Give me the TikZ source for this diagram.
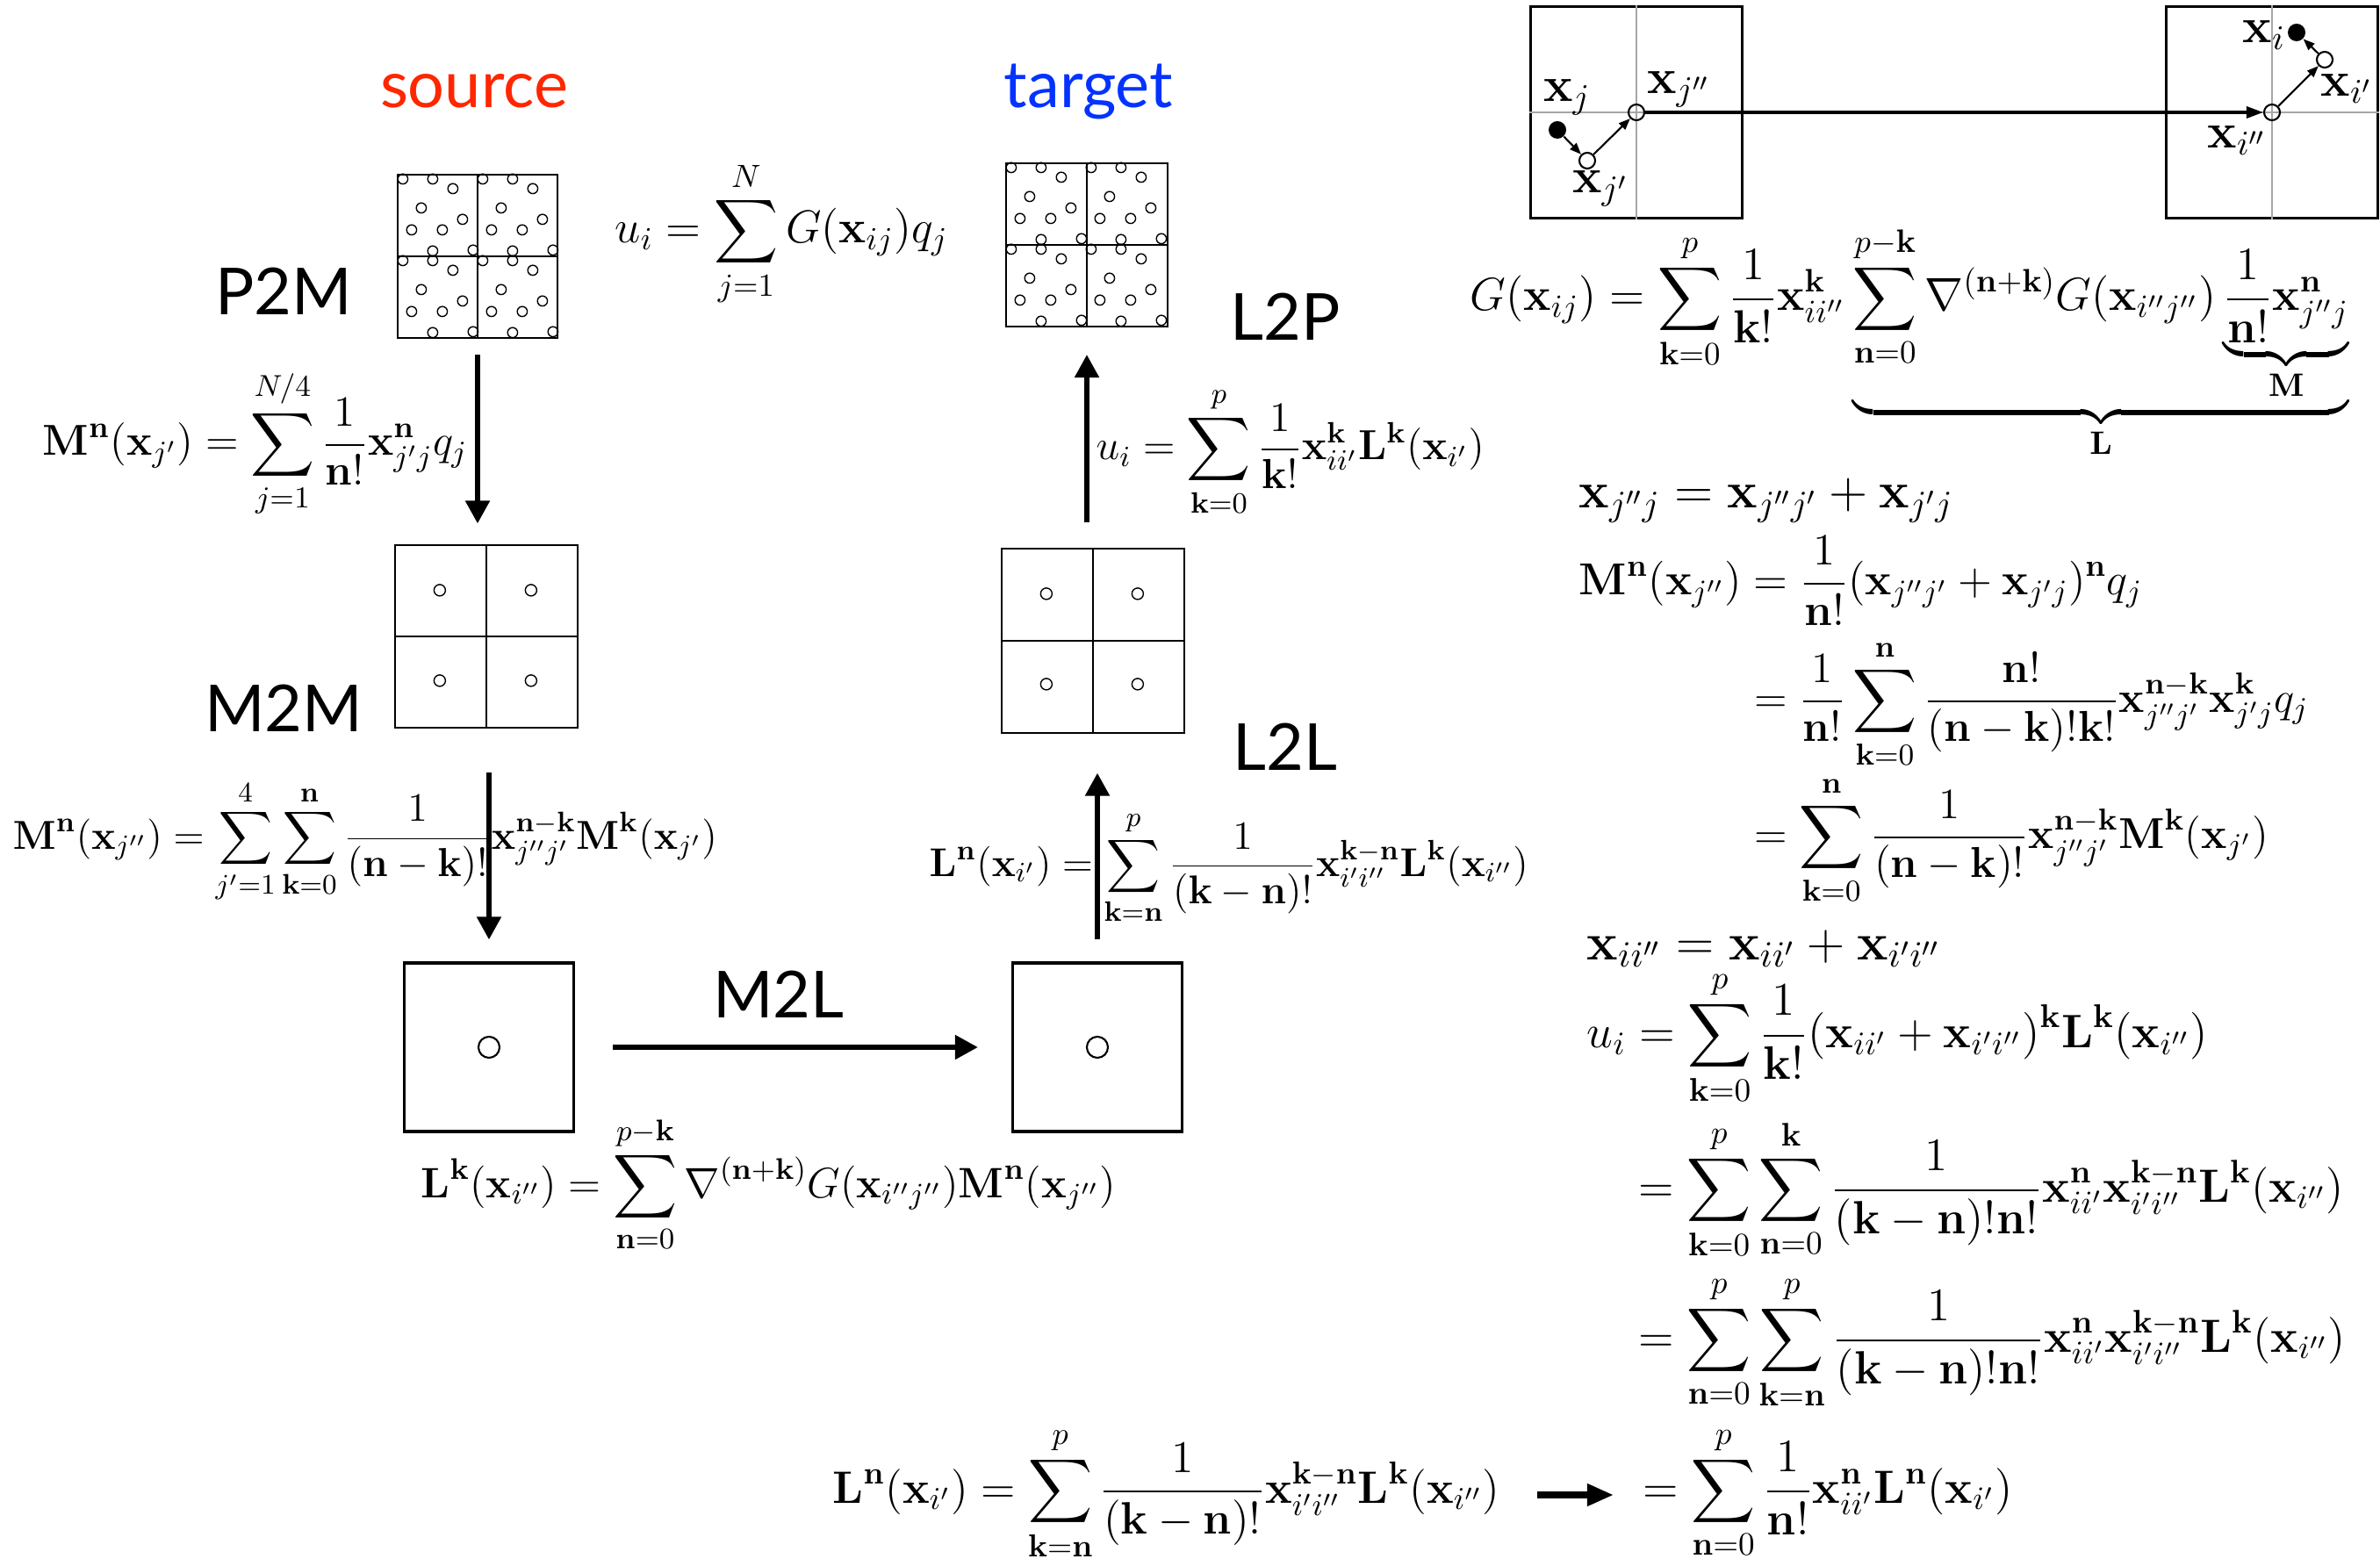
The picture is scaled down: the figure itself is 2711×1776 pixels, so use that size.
\RequirePackage{fix-cm}
\documentclass[tikz,border=0pt]{standalone}
\usepackage{amsmath}
\usepackage[no-math]{fontspec}
\newfontfamily\labelfont{Lato}
\usepackage{tikz}
\usetikzlibrary{arrows.meta, positioning, calc}

\definecolor{srcred}{RGB}{255,38,0}
\definecolor{tgtblue}{RGB}{4,51,255}
\newcommand{\vx}{\mathbf{x}}
\newcommand{\vn}{\mathbf{n}}
\newcommand{\vk}{\mathbf{k}}
\newcommand{\vM}{\mathbf{M}}
\newcommand{\vL}{\mathbf{L}}

\begin{document}
\begin{tikzpicture}[
    x=0.01cm, y=-0.01cm,
    cell/.style={draw, line width=0.6pt, inner sep=0pt},
    bigcell/.style={draw, line width=0.9pt, inner sep=0pt,
        minimum width=1.93cm, minimum height=1.92cm},
    frame/.style={draw, line width=1pt, inner sep=0pt,
        minimum width=2.41cm, minimum height=2.41cm},
    cross/.style={draw=gray!70, line width=0.7pt},
    eq/.style={inner sep=0pt, anchor=base west,
        font=\fontsize{#1}{17}\selectfont},
    eq/.default=14,
    tag/.style={inner sep=0pt, font=\fontsize{16}{19}\selectfont},
    lbl/.style={inner sep=0pt, font=\labelfont\fontsize{21}{25}\selectfont},
    flow/.style={line width=1.5pt, -{Triangle[length=0.26cm, width=0.27cm]}},
    trunk/.style={line width=1pt, -{Triangle[length=0.19cm, width=0.13cm]}},
    link/.style={line width=0.6pt, -{Triangle[length=0.13cm, width=0.1cm]}},
    hollow/.style={circle, draw, line width=0.6pt, minimum size=0.18cm, inner sep=0pt},
    dot/.style={circle, fill=black, minimum size=0.2cm, inner sep=0pt}
]
    \useasboundingbox (0,0) rectangle (2711,1776);

    % Headings
    \node[lbl, text=srcred]  (source) at (540,104)  {source};
    \node[lbl, text=tgtblue] (target) at (1240,104) {target};
    \node[lbl] (p2m) at (323,332)  {P2M};
    \node[lbl] (m2m) at (323,807)  {M2M};
    \node[lbl] (l2p) at (1464,361) {L2P};
    \node[lbl] (l2l) at (1464,851) {L2L};
    \node[lbl] (m2l) at (887,1133) {M2L};

    % Leaf boxes with particles
    \node[cell, minimum width=1.82cm, minimum height=1.86cm] (p2mbox) at (544,292) {};
    \node[cell, minimum width=1.84cm, minimum height=1.86cm] (l2pbox) at (1238,279) {};
    \foreach \b in {p2mbox, l2pbox} {
        \draw[cell] (\b.north) -- (\b.south);
        \draw[cell] (\b.west) -- (\b.east);
        \foreach \qx/\qy in {0/0, 91/0, 0/93, 91/93}
            \foreach \px/\py in {7/6, 41/6, 64/17, 28/39, 75/52, 17/64, 52/64, 41/88, 87/87}
                \draw[line width=0.4pt] ($(\b.north west)+(\qx+\px,\qy+\py)$) circle[radius=0.057cm];
    }

    % Second level boxes
    \node[cell, minimum width=2.08cm, minimum height=2.07cm] (m2mbox) at (554,725) {};
    \node[cell, minimum width=2.08cm, minimum height=2.09cm] (l2lbox) at (1245,730) {};
    \foreach \b in {m2mbox, l2lbox} {
        \draw[cell] (\b.north) -- (\b.south);
        \draw[cell] (\b.west) -- (\b.east);
        \foreach \cx/\cy in {52/52, 156/52, 52/155, 156/155}
            \draw[line width=0.4pt] ($(\b.north west)+(\cx,\cy)$) circle[radius=0.065cm];
    }

    % Top level boxes
    \node[bigcell] (m2lsrc) at (557,1193)  {};
    \node[bigcell] (m2ltgt) at (1250,1193) {};
    \draw[line width=0.6pt] (m2lsrc.center) circle[radius=0.12cm];
    \draw[line width=0.6pt] (m2ltgt.center) circle[radius=0.12cm];

    % Arrows between levels
    \draw[flow, shorten <=0.18cm, shorten >=0.24cm] (p2mbox.south) -- (p2mbox.south |- m2mbox.north);
    \draw[flow, shorten <=0.5cm, shorten >=0.25cm] (m2lsrc.north |- m2mbox.south) -- (m2lsrc.north);
    \draw[flow, shorten <=0.43cm, shorten >=0.38cm] (m2lsrc.east) -- (m2ltgt.west);
    \draw[flow, shorten <=0.25cm, shorten >=0.45cm] (m2ltgt.north) -- (m2ltgt.north |- l2lbox.south);
    \draw[flow, shorten <=0.29cm, shorten >=0.31cm] (l2pbox.south |- l2lbox.north) -- (l2pbox.south);

    % Equations on the tree
    \node[eq=14.9] (direct) at (700,277)
        {$\displaystyle u_i=\sum_{j=1}^{N}G(\vx_{ij})q_j$};
    \node[eq] (p2meq) at (48,519)
        {$\displaystyle \vM^{\vn}(\vx_{j'})=\sum_{j=1}^{N/4}\frac{1}{\vn!}\vx^{\vn}_{j'j}q_j$};
    \node[eq=13.1] (m2meq) at (14,967)
        {$\displaystyle \vM^{\vn}(\vx_{j''})=\sum_{j'=1}^{4}\sum_{\vk=0}^{\vn}\frac{1}{(\vn-\vk)!}\vx^{\vn-\vk}_{j''j'}\vM^{\vk}(\vx_{j'})$};
    \node[eq=13.8] (m2leq) at (479,1364)
        {$\displaystyle \vL^{\vk}(\vx_{i''})=\sum_{\vn=0}^{p-\vk}\nabla^{(\vn+\vk)}G(\vx_{i''j''})\vM^{\vn}(\vx_{j''})$};
    \node[eq=13.6] (l2peq) at (1248,524)
        {$\displaystyle u_i=\sum_{\vk=0}^{p}\frac{1}{\vk!}\vx^{\vk}_{ii'}\vL^{\vk}(\vx_{i'})$};
    \node[eq=13] (l2leq) at (1058,998)
        {$\displaystyle \vL^{\vn}(\vx_{i'})=\sum_{\vk=\vn}^{p}\frac{1}{(\vk-\vn)!}\vx^{\vk-\vn}_{i'i''}\vL^{\vk}(\vx_{i''})$};

    % Top right: cells and centres
    \node[frame] (srccell) at (1864,128) {};
    \node[frame] (tgtcell) at (2588,128) {};
    \draw[cross] (srccell.north) -- (srccell.south);
    \draw[cross] (srccell.west) -- (srccell.east);
    \draw[cross] (tgtcell.north) -- (tgtcell.south);
    \draw[cross] (tgtcell.west) -- (tgtcell.east);

    \node[dot]    (xj)   at (1774,148) {};
    \node[hollow] (xjp)  at (1808,183) {};
    \node[hollow] (xjpp) at (1864,128) {};
    \node[hollow] (xipp) at (2588,128) {};
    \node[hollow] (xip)  at (2648,68)  {};
    \node[dot]    (xi)   at (2616,37)  {};
    \draw[link]  (xj) -- (xjp);
    \draw[link]  (xjp) -- (xjpp);
    \draw[trunk] (xjpp) -- (xipp);
    \draw[link]  (xipp) -- (xip);
    \draw[link]  (xip) -- (xi);

    \node[tag] (tagxj)   at (1785,111) {$\vx_j$};
    \node[tag] (tagxjpp) at (1912,102) {$\vx_{j''}$};
    \node[tag] (tagxjp)  at (1823,215) {$\vx_{j'}$};
    \node[tag] (tagxi)   at (2579,40)  {$\vx_i$};
    \node[tag] (tagxip)  at (2673,101) {$\vx_{i'}$};
    \node[tag] (tagxipp) at (2548,160) {$\vx_{i''}$};

    % Right column: expansion and derivation
    \node[eq=15] (kernel) at (1674,354)
        {$\displaystyle G(\vx_{ij})=\sum_{\vk=0}^{p}\frac{1}{\vk!}\vx^{\vk}_{ii''}
         \underbrace{\sum_{\vn=0}^{p-\vk}\nabla^{(\vn+\vk)}G(\vx_{i''j''})
         \underbrace{\frac{1}{\vn!}\vx^{\vn}_{j''j}}_{\vM}}_{\vL}$};
    \node[eq=16.5] (shiftj) at (1798,579)
        {$\displaystyle \vx_{j''j}=\vx_{j''j'}+\vx_{j'j}$};
    \node[eq=14.5] (mstep1) at (1798,678)
        {$\displaystyle \vM^{\vn}(\vx_{j''})=\frac{1}{\vn!}(\vx_{j''j'}+\vx_{j'j})^{\vn}q_j$};
    \node[eq] (mstep2) at (1984,811)
        {$\displaystyle {}=\frac{1}{\vn!}\sum_{\vk=0}^{\vn}\frac{\vn!}{(\vn-\vk)!\vk!}\vx^{\vn-\vk}_{j''j'}\vx^{\vk}_{j'j}q_j$};
    \node[eq] (mstep3) at (1984,966)
        {$\displaystyle {}=\sum_{\vk=0}^{\vn}\frac{1}{(\vn-\vk)!}\vx^{\vn-\vk}_{j''j'}\vM^{\vk}(\vx_{j'})$};
    \node[eq=17] (shifti) at (1807,1093)
        {$\displaystyle \vx_{ii''}=\vx_{ii'}+\vx_{i'i''}$};
    \node[eq=15.2] (lstep1) at (1807,1193)
        {$\displaystyle u_i=\sum_{\vk=0}^{p}\frac{1}{\vk!}(\vx_{ii'}+\vx_{i'i''})^{\vk}\vL^{\vk}(\vx_{i''})$};
    \node[eq=15.1] (lstep2) at (1851,1369)
        {$\displaystyle {}=\sum_{\vk=0}^{p}\sum_{\vn=0}^{\vk}\frac{1}{(\vk-\vn)!\vn!}\vx^{\vn}_{ii'}\vx^{\vk-\vn}_{i'i''}\vL^{\vk}(\vx_{i''})$};
    \node[eq=15.1] (lstep3) at (1851,1540)
        {$\displaystyle {}=\sum_{\vn=0}^{p}\sum_{\vk=\vn}^{p}\frac{1}{(\vk-\vn)!\vn!}\vx^{\vn}_{ii'}\vx^{\vk-\vn}_{i'i''}\vL^{\vk}(\vx_{i''})$};

    % Bottom: L2L compared with a Taylor shift
    \node[eq=14.7] (l2lfull) at (948,1712)
        {$\displaystyle \vL^{\vn}(\vx_{i'})=\sum_{\vk=\vn}^{p}\frac{1}{(\vk-\vn)!}\vx^{\vk-\vn}_{i'i''}\vL^{\vk}(\vx_{i''})$};
    \node[eq=15.1] (l2lshort) at (1856,1712)
        {$\displaystyle {}=\sum_{\vn=0}^{p}\frac{1}{\vn!}\vx^{\vn}_{ii'}\vL^{\vn}(\vx_{i'})$};
    \coordinate (botfrom) at (1751,1703);
    \coordinate (botto)   at (1838,1703);
    \draw[line width=2pt, -{Triangle[length=0.3cm, width=0.24cm]}] (botfrom) -- (botto);
\end{tikzpicture}
\end{document}
